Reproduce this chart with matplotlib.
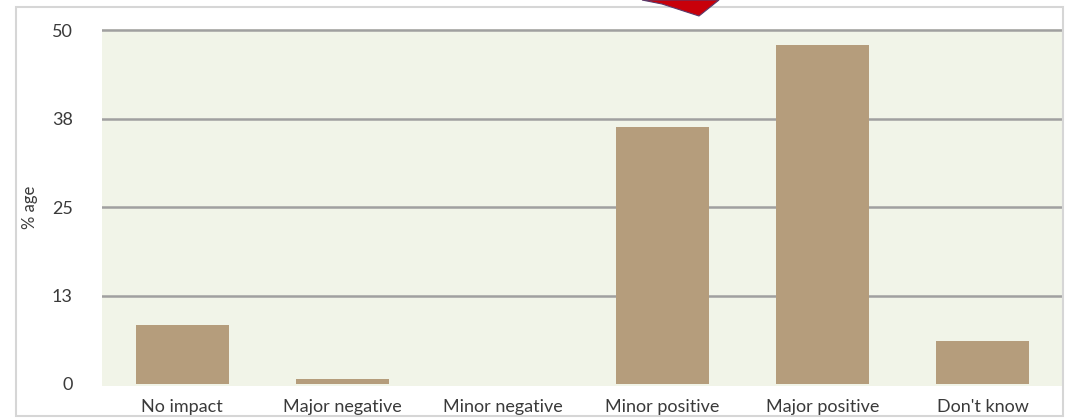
import matplotlib.pyplot as plt
from matplotlib.patches import Rectangle, Polygon

# Survey responses, percentage of respondents per answer
categories = ['No impact', 'Major negative', 'Minor negative',
              'Minor positive', 'Major positive', "Don't know"]
percent = [8.3, 0.7, 0.0, 36.4, 47.9, 6.1]
ytick_values = [0, 12.5, 25, 37.5, 50]
ytick_labels = ['0', '13', '25', '38', '50']

W, H = 1071, 419
fig = plt.figure(figsize=(W / 100, H / 100), dpi=100)
fig.patch.set_facecolor('white')

# light outer frame around the whole chart
fig.patches.append(Rectangle((16 / W, 3 / H), (1063 - 16) / W, (412 - 3) / H,
                             transform=fig.transFigure, fill=False,
                             edgecolor='#d6d6d6', linewidth=1.5))

ax = fig.add_axes([102 / W, 33 / H, (1063 - 102) / W, 357 / H])
ax.set_facecolor('#f1f4e8')

x = range(len(categories))
ax.bar(x, percent, width=0.58, color='#b59d7c', linewidth=0, zorder=3)

for v in ytick_values[1:]:
    ax.axhline(v, color='#a0a0a0', linewidth=1.8, zorder=2)

ax.set_xlim(-0.5, len(categories) - 0.5)
ax.set_ylim(-0.3, 50.2)
ax.set_yticks(ytick_values)
ax.set_yticklabels(ytick_labels)
ax.set_xticks(list(x))
ax.set_xticklabels(categories)

for s in ax.spines.values():
    s.set_visible(False)
ax.tick_params(length=0, labelsize=13, labelcolor='#3a3a3a')
ax.tick_params(axis='y', pad=21)
ax.tick_params(axis='x', pad=9)
for lbl in ax.get_xticklabels() + ax.get_yticklabels():
    lbl.set_family(['Lato', 'DejaVu Sans'])

ax.set_ylabel('% age', fontsize=12, color='#3a3a3a', family=['Lato', 'DejaVu Sans'],
              labelpad=10)

# red pointer cut off at the top edge
fig.patches.append(Polygon([(642 / W, 1.0), (719 / W, 1.0), (699 / W, 1 - 16 / H),
                            (662 / W, 1 - 4 / H)],
                           closed=True, transform=fig.transFigure,
                           facecolor='#c8000a', edgecolor='#5a3a6a', linewidth=0.8))

fig.savefig('out.png', dpi=100)
